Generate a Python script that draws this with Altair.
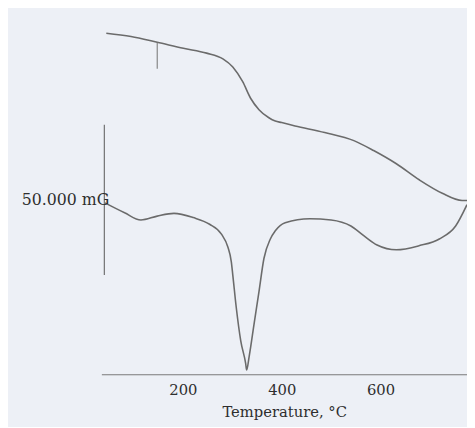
import altair as alt
import pandas as pd

# TG curve (upper) - temperature (°C) vs mass signal (mG, arbitrary offset)
tg_temp = [45, 95, 148, 201, 248, 281, 301, 321, 337, 354, 374, 387, 400, 427, 487, 546, 586, 632, 679, 725, 765, 775]
tg_mass = [113.4, 112.3, 110.4, 108.4, 106.8, 104.9, 102.2, 97.3, 91.8, 88.0, 85.3, 84.2, 83.7, 82.6,
           80.4, 77.7, 74.4, 70.0, 64.6, 60.2, 57.8, 57.8]

# DTA curve (lower)
dta_temp = [42, 82, 115, 148, 182, 221, 254, 278, 291, 298, 301, 308, 317, 327, 329, 334, 344, 354,
            364, 377, 387, 407, 457, 500, 540, 566, 593, 632, 679, 719, 752, 775]
dta_signal = [57.0, 53.7, 51.3, 52.6, 53.5, 52.1, 49.9, 46.6, 42.3, 37.4, 33.0, 22.2, 11.2, 3.6, 1.4,
              5.8, 16.7, 27.5, 38.5, 45.0, 47.7, 50.4, 51.7, 51.3, 49.3, 46.1, 43.0, 41.4, 42.8,
              45.0, 49.3, 56.4]

# scale bar (50 mG) and marks
bar_temp = [41]
bar_low = [33.0]
bar_high = [83.0]
bar_label = ["50.000 mG"]
marker_temp = [148]
marker_low = [101.6]
marker_high = [110.4]

x_ticks = [200, 400, 600]

line_color = "#6b6b6b"
text_color = "#2e2e2e"
font = "DejaVu Serif"

xscale = alt.Scale(domain=[35, 775], nice=False, zero=False)
yscale = alt.Scale(domain=[0, 118], nice=False, zero=False)

tg = pd.DataFrame({"T": tg_temp, "v": tg_mass})
dta = pd.DataFrame({"T": dta_temp, "v": dta_signal})
bar = pd.DataFrame({"T": bar_temp, "lo": bar_low, "hi": bar_high, "label": bar_label,
                    "mid": [(a + b) / 2 for a, b in zip(bar_low, bar_high)]})
mk = pd.DataFrame({"T": marker_temp, "lo": marker_low, "hi": marker_high})

xaxis = alt.Axis(values=x_ticks, title="Temperature, °C", grid=False, ticks=False,
                 domainColor="#7a7a7a", domainWidth=1.2, labelFont=font, labelFontSize=15,
                 labelColor=text_color, titleFont=font, titleFontSize=15, titleFontWeight="normal",
                 titleColor=text_color, labelPadding=9, titlePadding=7)

l1 = alt.Chart(tg).mark_line(color=line_color, strokeWidth=1.6, interpolate="monotone").encode(
    x=alt.X("T:Q", scale=xscale, axis=xaxis),
    y=alt.Y("v:Q", scale=yscale, axis=None),
)
l2 = alt.Chart(dta).mark_line(color=line_color, strokeWidth=1.6, interpolate="monotone").encode(
    x=alt.X("T:Q", scale=xscale),
    y=alt.Y("v:Q", scale=yscale),
)
r1 = alt.Chart(bar).mark_rule(color="#707070", strokeWidth=1.2).encode(
    x="T:Q", y="lo:Q", y2="hi:Q"
)
r2 = alt.Chart(mk).mark_rule(color="#707070", strokeWidth=1).encode(
    x="T:Q", y="lo:Q", y2="hi:Q"
)
txt = alt.Chart(bar).mark_text(align="right", baseline="middle", font=font, fontSize=16,
                               color=text_color, dx=5).encode(
    x="T:Q", y="mid:Q", text="label:N"
)

chart = alt.layer(l1, l2, r1, r2, txt).properties(
    width=372, height=361,
    autosize=alt.AutoSizeParams(type="none"),
    padding={"left": 95, "top": 8, "right": 0, "bottom": 50},
    background="#edf0f6",
).configure_view(stroke=None)

chart.save("out.html", embed_options={"renderer": "svg", "actions": False})
